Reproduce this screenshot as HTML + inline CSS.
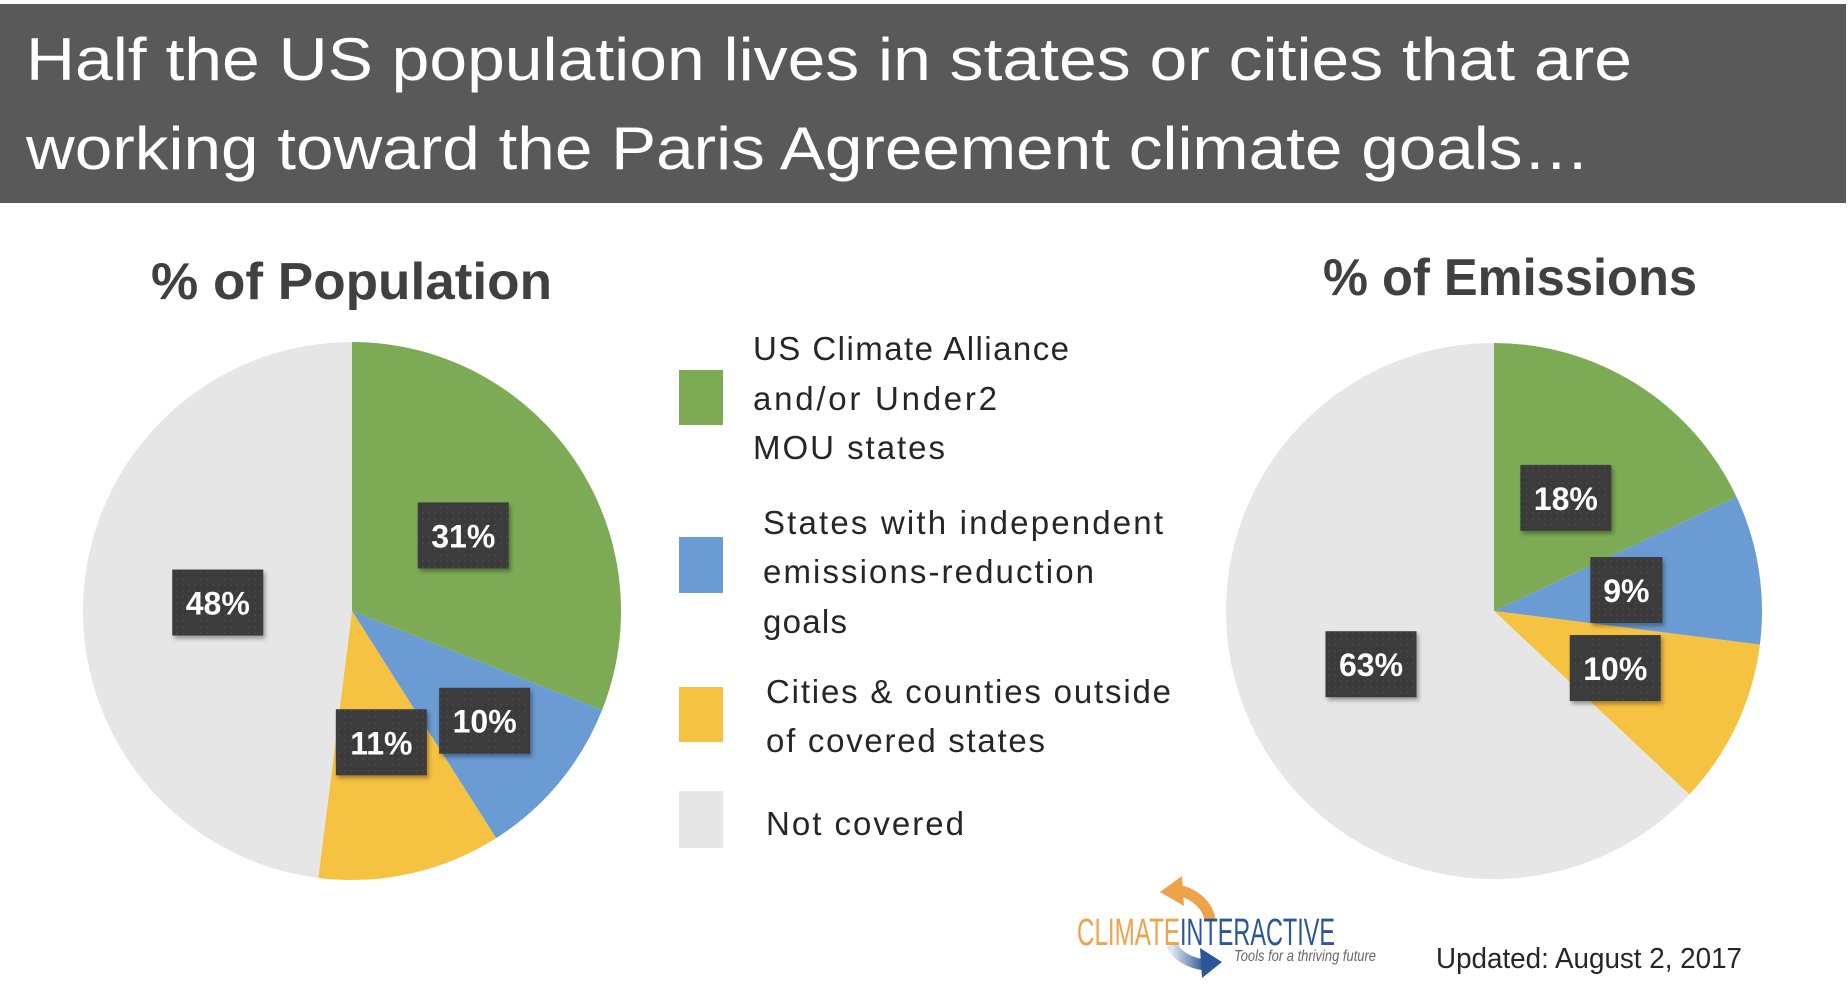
<!DOCTYPE html>
<html><head><meta charset="utf-8"><style>
html,body{margin:0;padding:0;background:#fff;}
svg{display:block;font-family:"Liberation Sans",sans-serif;}
</style></head><body>
<svg id="s" width="1848" height="986" viewBox="0 0 1848 986" xmlns="http://www.w3.org/2000/svg">
<defs>
<pattern id="dots" width="6" height="6" patternUnits="userSpaceOnUse"><rect width="6" height="6" fill="#3a3a3a"/><circle cx="3" cy="3" r="0.9" fill="#4a4a4a"/></pattern>
<filter id="sh" x="-20%" y="-20%" width="150%" height="150%"><feDropShadow dx="2" dy="3" stdDeviation="2" flood-color="#000" flood-opacity="0.35"/></filter>
<linearGradient id="bg1" x1="0" y1="0" x2="1" y2="0"><stop offset="0" stop-color="#dfe5ef"/><stop offset="1" stop-color="#2b5797"/></linearGradient>
</defs>
<rect x="0" y="4" width="1846" height="199" fill="#595959"/>
<text x="26" y="80" font-size="60" fill="#fff" textLength="1606" lengthAdjust="spacingAndGlyphs">Half the US population lives in states or cities that are</text>
<text x="26" y="169" font-size="60" fill="#fff" textLength="1564" lengthAdjust="spacingAndGlyphs">working toward the Paris Agreement climate goals…</text>
<text x="151" y="299" font-size="52" font-weight="bold" fill="#404040" textLength="401" lengthAdjust="spacingAndGlyphs">% of Population</text>
<text x="1323" y="295" font-size="52" font-weight="bold" fill="#404040" textLength="374" lengthAdjust="spacingAndGlyphs">% of Emissions</text>
<g id="pies"></g>
<g font-size="33" fill="#262626" lengthAdjust="spacingAndGlyphs">
<rect x="679" y="370" width="44" height="55" fill="#7dab55"/>
<text x="753" y="360" textLength="316">US Climate Alliance</text>
<text x="753" y="410" textLength="244">and/or Under2</text>
<text x="753" y="459" textLength="192">MOU states</text>
<rect x="679" y="537" width="44" height="56" fill="#6a9bd3"/>
<text x="763" y="534" textLength="400">States with independent</text>
<text x="763" y="583" textLength="331">emissions-reduction</text>
<text x="763" y="633" textLength="84">goals</text>
<rect x="679" y="687" width="44" height="55" fill="#f5c242"/>
<text x="766" y="703" textLength="405">Cities &amp; counties outside</text>
<text x="766" y="752" textLength="279">of covered states</text>
<rect x="679" y="791" width="44" height="57" fill="#e6e6e6"/>
<text x="766" y="835" textLength="198">Not covered</text>
</g>
<g>
<path d="M1210 920 A45 35 0 0 0 1178 890" fill="none" stroke="#eea24a" stroke-width="11"/>
<polygon points="1160,892 1182,876 1184,906" fill="#eea24a"/>
<path d="M1172 945 A42 28 0 0 0 1205 965" fill="none" stroke="url(#bg1)" stroke-width="11"/>
<polygon points="1222,962 1200,948 1202,978" fill="#2b5797"/>
<text x="1077" y="945" font-size="38" fill="#eea24a" textLength="103" lengthAdjust="spacingAndGlyphs">CLIMATE</text>
<text x="1180" y="945" font-size="38" fill="#2b5797" textLength="155" lengthAdjust="spacingAndGlyphs">INTERACTIVE</text>
<text x="1234" y="961" font-size="16" font-style="italic" fill="#666" textLength="142" lengthAdjust="spacingAndGlyphs">Tools for a thriving future</text>
</g>
<text x="1436" y="968" font-size="29" fill="#262626" textLength="306" lengthAdjust="spacingAndGlyphs">Updated: August 2, 2017</text>
</svg>
<script>
const categories = ["US Climate Alliance and/or Under2 MOU states","States with independent emissions-reduction goals","Cities & counties outside of covered states","Not covered"];
const populationValues = [31, 10, 11, 48];
const emissionsValues = [18, 9, 10, 63];
const colors = ["#7dab55","#6a9bd3","#f5c242","#e6e6e6"];
const NS = "http://www.w3.org/2000/svg";
const g = document.getElementById('pies');
function pt(cx, cy, r, a){ return [cx + r*Math.sin(a), cy - r*Math.cos(a)]; }
function drawPie(name, values, cx, cy, R, labelR){
  const total = values.reduce((a,b)=>a+b,0);
  let a0 = 0;
  const labels = [];
  values.forEach((v,i)=>{
    const a1 = a0 + v/total*2*Math.PI;
    const p0 = pt(cx,cy,R,a0), p1 = pt(cx,cy,R,a1);
    const large = (a1-a0) > Math.PI ? 1 : 0;
    const path = document.createElementNS(NS,'path');
    path.setAttribute('d', `M${cx},${cy} L${p0[0]},${p0[1]} A${R},${R} 0 ${large} 1 ${p1[0]},${p1[1]} Z`);
    path.setAttribute('fill', colors[i]);
    
    
    g.appendChild(path);
    const lr = R * (labelR[i] || 0.5);
    const lp = pt(cx,cy,lr,(a0+a1)/2);
    labels.push([lp, v]);
    a0 = a1;
  });
  labels.forEach(([lp,v],i)=>{
    const txt = v + '%';
    const w = txt.length > 2 ? 91 : 72, h = 66;
    const r = document.createElementNS(NS,'rect');
    r.setAttribute('x', lp[0]-w/2); r.setAttribute('y', lp[1]-h/2);
    r.setAttribute('width', w); r.setAttribute('height', h);
    r.setAttribute('fill', 'url(#dots)'); r.setAttribute('filter','url(#sh)');
    
    
    g.appendChild(r);
    const t = document.createElementNS(NS,'text');
    t.setAttribute('x', lp[0]); t.setAttribute('y', lp[1]+12);
    t.setAttribute('text-anchor','middle'); t.setAttribute('font-size','32');
    t.setAttribute('font-weight','bold'); t.setAttribute('fill','#fff');
    
    
    t.textContent = txt;
    g.appendChild(t);
  });
}
drawPie('population-pie', populationValues, 352, 611, 269, [0.5,0.64,0.5,0.5]);
drawPie('emissions-pie', emissionsValues, 1494, 611, 268, [0.5,0.5,0.5,0.5]);
</script>
</body></html>
